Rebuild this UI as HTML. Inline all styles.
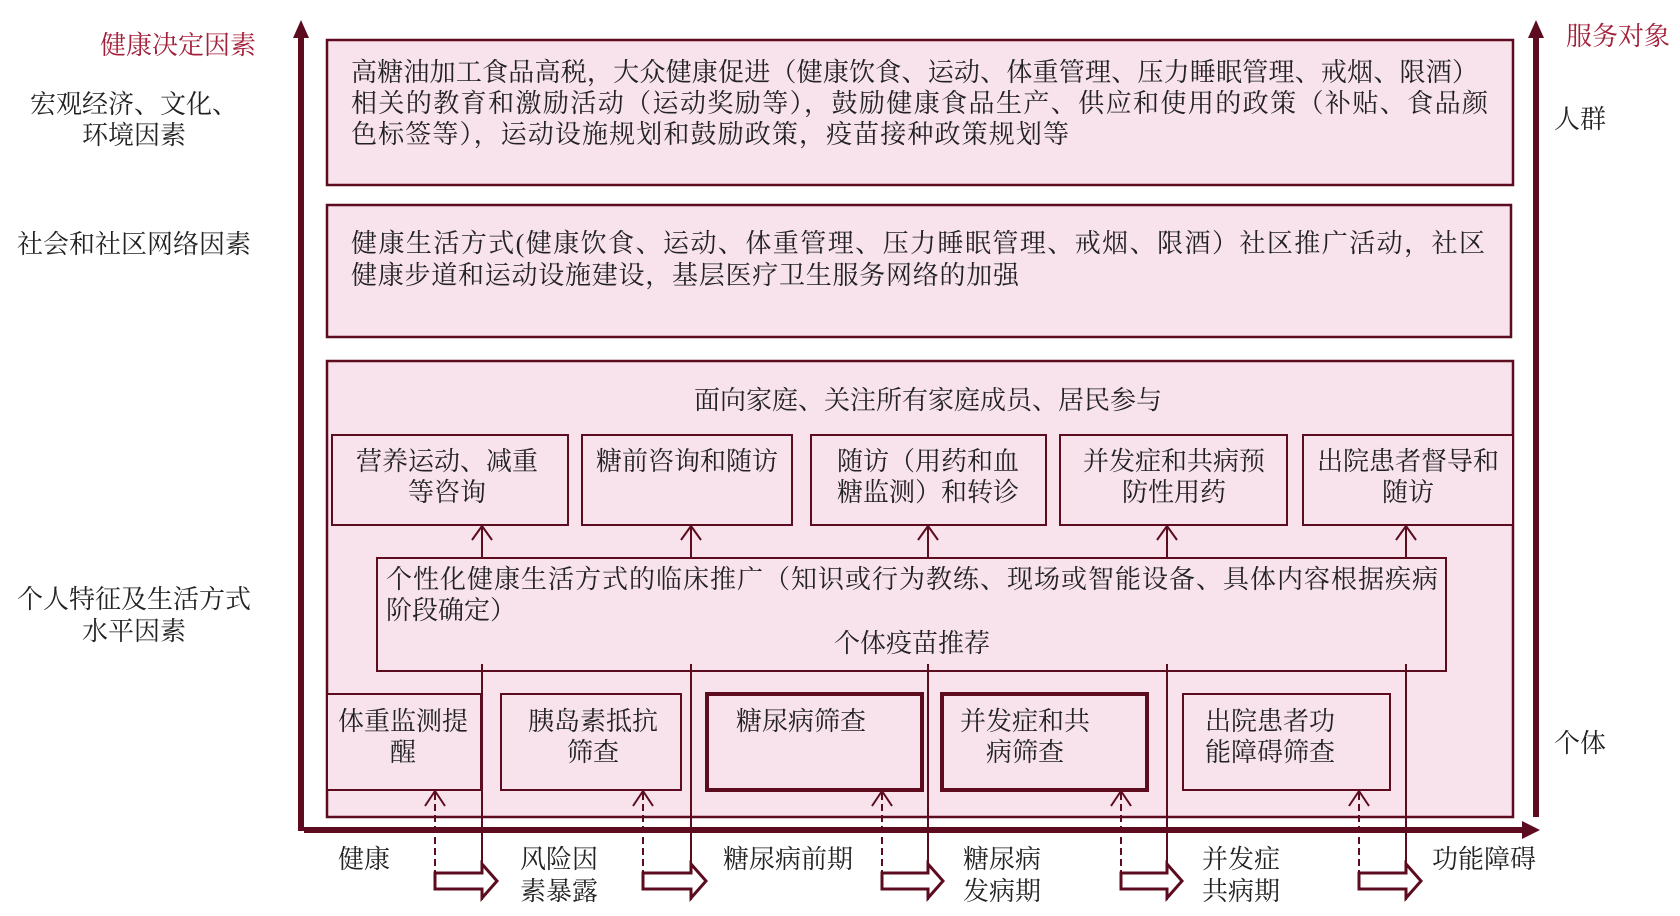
<!DOCTYPE html>
<html><head><meta charset="utf-8"><style>
html,body{margin:0;padding:0;background:#fff;width:1680px;height:916px;overflow:hidden}
text{font-family:"Liberation Serif","Noto Serif CJK SC",serif;font-size:26px;fill:#222}
.r{fill:#a3203a}
.m{text-anchor:middle}
</style></head><body>
<svg width="1680" height="916" viewBox="0 0 1680 916" xmlns="http://www.w3.org/2000/svg">
<g stroke="#5c0c1e" fill="#f8e2ec">
<rect x="327" y="40" width="1186" height="145" stroke-width="2.5"/>
<rect x="327" y="205" width="1184" height="132" stroke-width="2.5"/>
<rect x="327" y="361" width="1186" height="456" stroke-width="2.5"/>
<rect x="332" y="435" width="236" height="90" stroke-width="2"/>
<rect x="582" y="435" width="210" height="90" stroke-width="2"/>
<rect x="811" y="435" width="235" height="90" stroke-width="2"/>
<rect x="1060" y="435" width="227" height="90" stroke-width="2"/>
<rect x="1303" y="435" width="210" height="90" stroke-width="2"/>
<rect x="377" y="558" width="1069" height="113" stroke-width="2"/>
<rect x="327" y="694" width="154" height="96" stroke-width="2"/>
<rect x="501" y="694" width="180" height="96" stroke-width="2"/>
<rect x="707" y="694" width="215" height="96" stroke-width="4"/>
<rect x="942" y="694" width="205" height="96" stroke-width="4"/>
<rect x="1183" y="694" width="207" height="96" stroke-width="2"/>
</g>
<g fill="#5c0c1e" stroke="none">
<rect x="298" y="34" width="6" height="797"/>
<polygon points="301,20 293,38 309,38"/>
<rect x="1533" y="34" width="6" height="783"/>
<polygon points="1536,20 1528,38 1544,38"/>
<rect x="304" y="827" width="1222" height="6"/>
<polygon points="1540,830 1522,821 1522,839"/>
</g>
<g stroke="#5c0c1e" stroke-width="2" fill="none">
<path d="M482 558V526M472 540L482 526L492 540"/>
<path d="M691 558V526M681 540L691 526L701 540"/>
<path d="M928 558V526M918 540L928 526L938 540"/>
<path d="M1167 558V526M1157 540L1167 526L1177 540"/>
<path d="M1406 558V526M1396 540L1406 526L1416 540"/>
<path d="M482 664V900M691 664V900M928 664V900M1167 664V900M1406 664V900"/>
</g>
<g stroke="#5c0c1e" stroke-width="2" fill="none">
<path d="M435 888V792M643 888V792M882 888V792M1121 888V792M1359 888V792" stroke-dasharray="7,4"/>
<path d="M425 806L435 791L445 806M633 806L643 791L653 806M872 806L882 791L892 806M1111 806L1121 791L1131 806M1349 806L1359 791L1369 806"/>
</g>
<g stroke="#5c0c1e" stroke-width="3" fill="#fff">
<polygon points="435,873 482,873 482,864 497,881 482,898 482,889 435,889"/>
<polygon points="643,873 691,873 691,864 706,881 691,898 691,889 643,889"/>
<polygon points="882,873 928,873 928,864 943,881 928,898 928,889 882,889"/>
<polygon points="1121,873 1167,873 1167,864 1182,881 1167,898 1167,889 1121,889"/>
<polygon points="1359,873 1406,873 1406,864 1421,881 1406,898 1406,889 1359,889"/>
</g>
<text x="178" y="54" class="r m">健康决定因素</text>
<text x="134" y="113" class="m">宏观经济、文化、</text>
<text x="134" y="144" class="m">环境因素</text>
<text x="134" y="253" class="m">社会和社区网络因素</text>
<text x="134" y="608" class="m">个人特征及生活方式</text>
<text x="134" y="640" class="m">水平因素</text>
<text x="1618" y="45" class="r m">服务对象</text>
<text x="1580" y="128" class="m">人群</text>
<text x="1580" y="752" class="m">个体</text>
<text x="351" y="81" textLength="1127" lengthAdjust="spacing">高糖油加工食品高税，大众健康促进（健康饮食、运动、体重管理、压力睡眠管理、戒烟、限酒）</text>
<text x="351" y="112" textLength="1137" lengthAdjust="spacing">相关的教育和激励活动（运动奖励等），鼓励健康食品生产、供应和使用的政策（补贴、食品颜</text>
<text x="351" y="143" textLength="718" lengthAdjust="spacing">色标签等），运动设施规划和鼓励政策，疫苗接种政策规划等</text>
<text x="351" y="252" textLength="1134" lengthAdjust="spacing">健康生活方式(健康饮食、运动、体重管理、压力睡眠管理、戒烟、限酒）社区推广活动，社区</text>
<text x="351" y="284" textLength="668" lengthAdjust="spacing">健康步道和运动设施建设，基层医疗卫生服务网络的加强</text>
<text x="928" y="409" class="m">面向家庭、关注所有家庭成员、居民参与</text>
<text x="447" y="470" class="m">营养运动、减重</text>
<text x="447" y="501" class="m">等咨询</text>
<text x="687" y="470" class="m">糖前咨询和随访</text>
<text x="928" y="470" class="m">随访（用药和血</text>
<text x="928" y="501" class="m">糖监测）和转诊</text>
<text x="1174" y="470" class="m">并发症和共病预</text>
<text x="1174" y="501" class="m">防性用药</text>
<text x="1408" y="470" class="m">出院患者督导和</text>
<text x="1408" y="501" class="m">随访</text>
<text x="386" y="588" textLength="1052" lengthAdjust="spacing">个性化健康生活方式的临床推广（知识或行为教练、现场或智能设备、具体内容根据疾病</text>
<text x="386" y="619">阶段确定）</text>
<text x="912" y="652" class="m">个体疫苗推荐</text>
<text x="403" y="730" class="m">体重监测提</text>
<text x="403" y="761" class="m">醒</text>
<text x="593" y="730" class="m">胰岛素抵抗</text>
<text x="593" y="761" class="m">筛查</text>
<text x="801" y="730" class="m">糖尿病筛查</text>
<text x="1025" y="730" class="m">并发症和共</text>
<text x="1025" y="761" class="m">病筛查</text>
<text x="1270" y="730" class="m">出院患者功</text>
<text x="1270" y="761" class="m">能障碍筛查</text>
<text x="364" y="868" class="m">健康</text>
<text x="559" y="868" class="m">风险因</text>
<text x="559" y="900" class="m">素暴露</text>
<text x="788" y="868" class="m">糖尿病前期</text>
<text x="1002" y="868" class="m">糖尿病</text>
<text x="1002" y="900" class="m">发病期</text>
<text x="1241" y="868" class="m">并发症</text>
<text x="1241" y="900" class="m">共病期</text>
<text x="1484" y="868" class="m">功能障碍</text>
</svg>
</body></html>
